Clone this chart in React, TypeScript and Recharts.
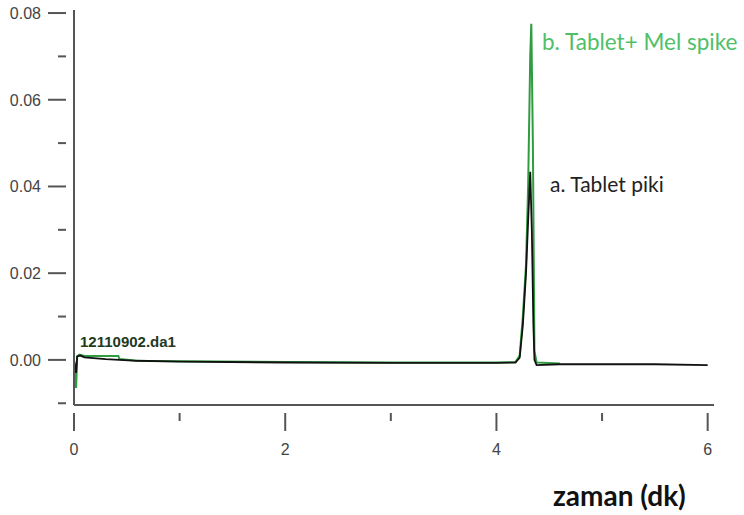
import { LineChart, Line, XAxis, YAxis } from "recharts";

// retention time (min) and absorbance for each run
const tabletTime = [0, 0.02, 0.03, 0.06, 0.1, 0.3, 0.6, 1.0, 2.0, 3.0, 4.0, 4.18, 4.22, 4.25, 4.28, 4.3, 4.32, 4.335, 4.35, 4.36, 4.38, 4.6, 5.0, 5.5, 6.0];
const tabletValue = [0, -0.003, 0.0008, 0.001, 0.0006, 0.0002, -0.0002, -0.0004, -0.0006, -0.0007, -0.0007, -0.0006, 0.0005, 0.008, 0.02, 0.032, 0.0434, 0.03, 0.008, 0.0, -0.0012, -0.001, -0.001, -0.001, -0.0012];

const spikeTime = [0, 0.02, 0.03, 0.05, 0.1, 0.42, 0.43, 0.6, 1.0, 2.0, 3.0, 4.0, 4.18, 4.22, 4.25, 4.28, 4.3, 4.32, 4.33, 4.345, 4.36, 4.38, 4.6];
const spikeValue = [0, -0.0065, 0.0008, 0.0012, 0.0009, 0.0009, 0.0002, -0.0002, -0.0003, -0.0005, -0.0006, -0.0006, -0.0005, 0.001, 0.01, 0.022, 0.04, 0.07, 0.0775, 0.05, 0.002, -0.0006, -0.0008];

const yTicks = [-0.01, 0, 0.01, 0.02, 0.03, 0.04, 0.05, 0.06, 0.07, 0.08];
const yLabels = ["0.00", "0.02", "0.04", "0.06", "0.08"];
const xTicks = [0, 1, 2, 3, 4, 5, 6];
const xLabels = ["0", "2", "4", "6"];

const tabletData = tabletTime.map((x, i) => ({ x, y: tabletValue[i] }));
const spikeData = spikeTime.map((x, i) => ({ x, y: spikeValue[i] }));

const axisColor = "#555";
const tickFont = "'Liberation Sans', Arial, sans-serif";

const YTick = (props: any) => {
  const { x, y, payload } = props;
  const label = payload.value.toFixed(2);
  const major = yLabels.includes(label);
  return (
    <g>
      <line x1={major ? x - 18 : x - 8} x2={x} y1={y} y2={y} stroke={axisColor} strokeWidth={2} />
      {major && (
        <text x={x - 25} y={y + 6} textAnchor="end" fontSize={16} fill="#444" style={{ fontFamily: tickFont }}>
          {label}
        </text>
      )}
    </g>
  );
};

const XTick = (props: any) => {
  const { x, y, payload } = props;
  const label = String(payload.value);
  const major = xLabels.includes(label);
  return (
    <g>
      <line x1={x} x2={x} y1={y} y2={major ? y + 18 : y + 8} stroke={axisColor} strokeWidth={2} />
      {major && (
        <text x={x} y={y + 42} textAnchor="middle" fontSize={16} fill="#444" style={{ fontFamily: tickFont }}>
          {label}
        </text>
      )}
    </g>
  );
};

export default function App() {
  return (
    <div style={{ position: "absolute", left: 0, top: 0, width: 744, height: 515, background: "#fff" }}>
      <LineChart width={744} height={515} margin={{ top: 10, right: 30, left: 0, bottom: 0 }}>
        <XAxis
          dataKey="x"
          type="number"
          domain={[0, 6.06]}
          ticks={xTicks}
          tick={<XTick />}
          tickLine={false}
          height={110}
          stroke={axisColor}
          strokeWidth={2}
          allowDuplicatedCategory={false}
        />
        <YAxis
          type="number"
          domain={[-0.0104, 0.0807]}
          ticks={yTicks}
          tick={<YTick />}
          tickLine={false}
          width={74}
          stroke={axisColor}
          strokeWidth={2}
        />
        <Line data={spikeData} dataKey="y" type="linear" stroke="#2f9c40" strokeWidth={2} dot={false} isAnimationActive={false} />
        <Line data={tabletData} dataKey="y" type="linear" stroke="#111" strokeWidth={1.8} dot={false} isAnimationActive={false} />
      </LineChart>
      <div style={{ position: "absolute", left: 80, top: 333, fontFamily: "'Liberation Sans', Arial", fontSize: 15, fontWeight: "bold", color: "#1f3a1f" }}>
        12110902.da1
      </div>
      <div style={{ position: "absolute", left: 542, top: 28, fontFamily: "Lato, 'Open Sans'", fontSize: 22.5, color: "#4fbf68" }}>
        b. Tablet+ Mel spike
      </div>
      <div style={{ position: "absolute", left: 550, top: 171, fontFamily: "Lato, 'Open Sans'", fontSize: 21, color: "#222" }}>
        a. Tablet piki
      </div>
      <div style={{ position: "absolute", left: 553, top: 478, fontFamily: "Lato, 'Open Sans'", fontSize: 28, fontWeight: "bold", color: "#111" }}>
        zaman (dk)
      </div>
    </div>
  );
}
